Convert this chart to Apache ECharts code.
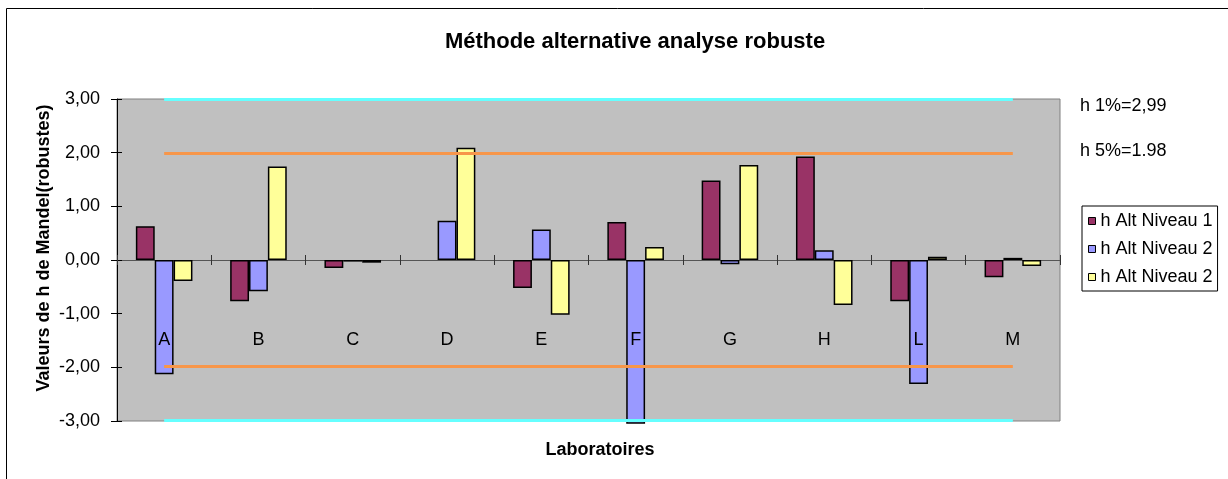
<!DOCTYPE html>
<html>
<head>
<meta charset="utf-8">
<script src="https://cdn.jsdelivr.net/npm/echarts@6/dist/echarts.min.js"></script>
<style>
html,body{margin:0;padding:0;background:#fff;}
#chart{width:1228px;height:479px;}
</style>
</head>
<body>
<div id="chart"></div>
<script>
const categories = ['A','B','C','D','E','F','G','H','L','M'];
const niveau1 = [0.63,-0.77,-0.15,null,-0.52,0.71,1.48,1.93,-0.77,-0.32];
const niveau2 = [-2.13,-0.58,-0.03,0.73,0.57,-3.05,-0.08,0.18,-2.31,0.04];
const niveau3 = [-0.39,1.74,-0.05,2.09,-1.02,0.24,1.77,-0.84,0.06,-0.11];
const legendLabels = ['h Alt Niveau 1','h Alt Niveau 2','h Alt Niveau 2'];
const h1 = 2.99;
const h5 = 1.98;
const thresholdLabels = ['h 1%=2,99','h 5%=1.98'];
const yTicks = {min:-3, max:3, interval:1};

const FONT = 'Liberation Sans, Arial, sans-serif';
const seriesIds = ['n1','n2','n3'];
const colors = ['#993366','#9999FF','#FFFF99'];
const dataSets = [niveau1, niveau2, niveau3];

const chart = echarts.init(document.getElementById('chart'), null, {renderer:'canvas'});

function hLine(v, color){
  return [{xAxis: categories[0], yAxis: v}, {xAxis: categories[categories.length-1], yAxis: v, lineStyle:{color:color}}];
}

const barSeries = dataSets.map((d,i)=>({
  name: seriesIds[i],
  type: 'bar',
  xAxisIndex: 0,
  yAxisIndex: 0,
  data: d,
  clip: false,
  barGap: '0%',
  barCategoryGap: '40%',
  itemStyle: {color: colors[i], borderColor: '#000', borderWidth: 1.5},
  z: 2
}));

const option = {
  animation: false,
  backgroundColor: '#fff',
  grid: {left:117, right:168, top:99, bottom:58, outerBoundsMode:'none', containLabel:false,
    show:true, backgroundColor:'#C0C0C0', borderColor:'#808080', borderWidth:1},
  legend: {
    orient:'vertical', left:1082, top:206,
    data: seriesIds,
    formatter: function(name){ return legendLabels[seriesIds.indexOf(name)]; },
    icon:'rect', itemWidth:7, itemHeight:7, itemGap:8,
    padding:[5,5,4,6],
    borderColor:'#000', borderWidth:1, backgroundColor:'#fff',
    textStyle:{fontFamily:FONT, fontSize:18, color:'#000', lineHeight:20},
    itemStyle:{borderColor:'#000', borderWidth:1}
  },
  xAxis: [{
    type:'category', data:categories, boundaryGap:true,
    axisLine:{onZero:true, lineStyle:{color:'#555', width:1}},
    axisTick:{show:true, length:5, lineStyle:{color:'#333'}},
    axisLabel:{show:false},
    splitLine:{show:false}
  },{
    type:'category', data:categories, boundaryGap:true, position:'bottom',
    axisLine:{onZero:true, lineStyle:{color:'#555', width:1}},
    axisTick:{show:true, inside:true, length:5, lineStyle:{color:'#333'}},
    axisLabel:{show:false},
    splitLine:{show:false}
  },{
    type:'category', data:categories, boundaryGap:true, position:'bottom', z:20,
    axisLine:{show:false, onZero:false},
    axisTick:{show:false},
    axisLabel:{show:true, margin:-90, fontFamily:FONT, fontSize:18, color:'#000'},
    splitLine:{show:false}
  }],
  yAxis: [{
    type:'value', min:yTicks.min, max:yTicks.max, interval:yTicks.interval,
    axisLine:{show:true, lineStyle:{color:'#000', width:1}},
    axisTick:{show:true, length:6, lineStyle:{color:'#000'}},
    axisLabel:{margin:17, fontFamily:FONT, fontSize:18, color:'#000',
      formatter:function(v){return v.toFixed(2).replace('.',',');}},
    splitLine:{show:false}
  },{
    type:'value', min:yTicks.min, max:yTicks.max, interval:yTicks.interval, position:'left',
    axisLine:{show:false},
    axisTick:{show:true, inside:true, length:5, lineStyle:{color:'#000'}},
    axisLabel:{show:false},
    splitLine:{show:false}
  }],
  series: barSeries.concat([{
    name:'thresholds', type:'line', data:[], z:5, silent:true,
    markLine:{
      symbol:['none','none'], silent:true, label:{show:false}, animation:false,
      lineStyle:{width:3, type:'solid'},
      data:[hLine(h1,'#66FFFF'), hLine(-h1,'#66FFFF'), hLine(h5,'#F7964A'), hLine(-h5,'#F7964A')]
    }
  }]),
  graphic: [
    {type:'rect', shape:{x:6.5, y:8.5, width:1240, height:490}, style:{fill:'none', stroke:'#000', lineWidth:1}, silent:true, z:-1},
    {type:'text', x:635, y:42, style:{text:'Méthode alternative analyse robuste', font:'bold 22px '+FONT, fill:'#000', textAlign:'center', textVerticalAlign:'middle'}},
    {type:'text', x:600, y:450, style:{text:'Laboratoires', font:'bold 18px '+FONT, fill:'#000', textAlign:'center', textVerticalAlign:'middle'}},
    {type:'text', x:44, y:248, rotation:Math.PI/2, style:{text:'Valeurs de h de Mandel(robustes)', font:'bold 18px '+FONT, fill:'#000', textAlign:'center', textVerticalAlign:'middle'}},
    {type:'text', x:1080, y:106, style:{text:thresholdLabels[0], font:'18px '+FONT, fill:'#000', textAlign:'left', textVerticalAlign:'middle'}},
    {type:'text', x:1080, y:151, style:{text:thresholdLabels[1], font:'18px '+FONT, fill:'#000', textAlign:'left', textVerticalAlign:'middle'}}
  ]
};
chart.setOption(option);
</script>
</body>
</html>
